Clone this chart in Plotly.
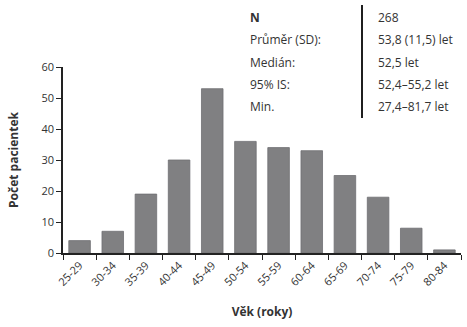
import plotly.graph_objects as go

# Age groups and patient counts
age_groups = ["25-29", "30-34", "35-39", "40-44", "45-49", "50-54",
              "55-59", "60-64", "65-69", "70-74", "75-79", "80-84"]
patients = [4, 7, 19, 30, 53, 36, 34, 33, 25, 18, 8, 1]

# Summary statistics table
stat_labels = ["N", "Průměr (SD):", "Medián:", "95% IS:", "Min."]
stat_values = ["268", "53,8 (11,5) let", "52,5 let", "52,4–55,2 let", "27,4–81,7 let"]

W, H = 467, 327
L, R, T, B = 63, 6, 67, 74
plot_w = W - L - R
plot_h = H - T - B

FONT = "Open Sans, Noto Sans, sans-serif"
TXT = "#333333"

fig = go.Figure()
fig.add_trace(go.Bar(
    x=age_groups, y=patients,
    marker=dict(color="#808082", line=dict(color="#6f6f72", width=0.8)),
    width=0.65,
))

def px_to_paper(px, py):
    return (px - L) / plot_w, (H - B - py) / plot_h

annotations = []
row_y = [17, 40, 62, 84, 106]
for lab, val, py in zip(stat_labels, stat_values, row_y):
    xl, yy = px_to_paper(248, py)
    xv, _ = px_to_paper(376, py)
    annotations.append(dict(
        x=xl, y=yy, xref="paper", yref="paper", xanchor="left", yanchor="middle",
        text=f"<b>{lab}</b>" if lab == "N" else lab, showarrow=False,
        font=dict(family=FONT, size=12, color=TXT)))
    annotations.append(dict(
        x=xv, y=yy, xref="paper", yref="paper", xanchor="left", yanchor="middle",
        text=val, showarrow=False, font=dict(family=FONT, size=12, color=TXT)))

x0, y0 = px_to_paper(362, 5)
_, y1 = px_to_paper(362, 118)
fig.add_shape(type="line", xref="paper", yref="paper", x0=x0, x1=x0, y0=y0, y1=y1,
              line=dict(color="#1f1f1f", width=2))

fig.update_layout(
    width=W, height=H,
    margin=dict(l=L, r=R, t=T, b=B),
    paper_bgcolor="white", plot_bgcolor="white",
    showlegend=False,
    font=dict(family=FONT, size=11, color=TXT),
    annotations=annotations,
    xaxis=dict(
        type="category", range=[-0.5, 11.5],
        showline=True, linecolor="#222", linewidth=1.5,
        ticks="outside", tickson="boundaries", ticklen=5, tickcolor="#222", tickwidth=1.2,
        tickangle=-45, tickfont=dict(family=FONT, size=11, color=TXT),
        showgrid=False, zeroline=False,
        title=dict(text="<b>Věk (roky)</b>", font=dict(family=FONT, size=12, color=TXT), standoff=20),
    ),
    yaxis=dict(
        range=[0, 60], tickvals=[0, 10, 20, 30, 40, 50, 60],
        showline=True, linecolor="#222", linewidth=1.5,
        ticks="outside", ticklen=5, tickcolor="#222", tickwidth=1.2,
        tickfont=dict(family=FONT, size=11, color=TXT),
        showgrid=False, zeroline=False,
        title=dict(text="<b>Počet pacientek</b>", font=dict(family=FONT, size=12, color=TXT), standoff=20),
    ),
)

fig.write_html("out.html")
